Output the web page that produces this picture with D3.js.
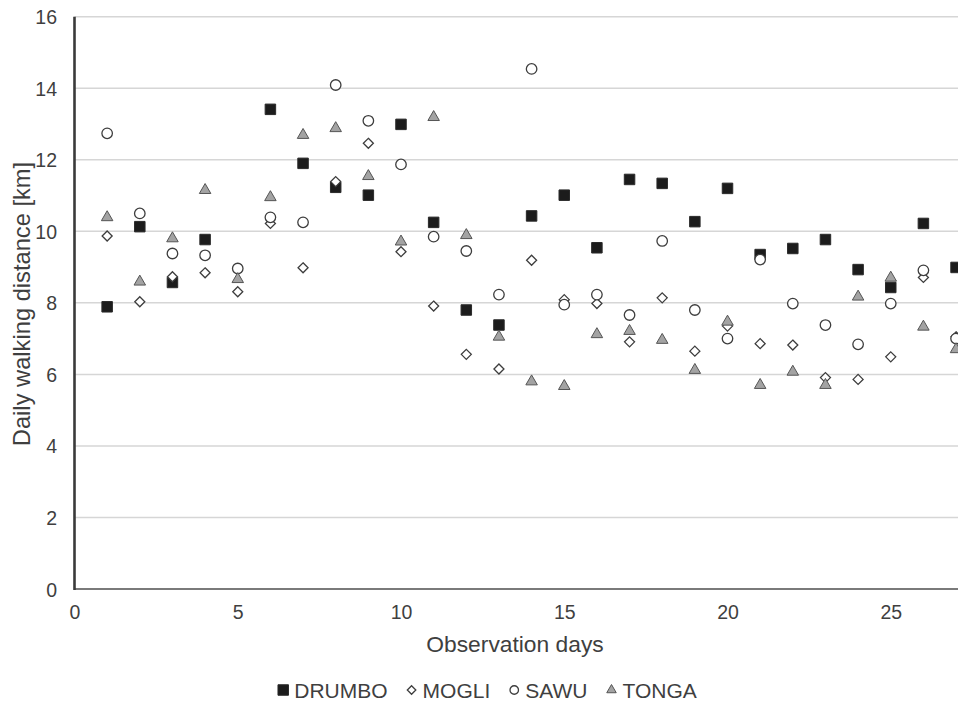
<!DOCTYPE html>
<html>
<head>
<meta charset="utf-8">
<script src="https://cdn.jsdelivr.net/npm/d3@7"></script>
<style>
  html, body { margin: 0; padding: 0; background: #fff; overflow: hidden; }
  svg { display: block; font-family: "Liberation Sans", Arial, sans-serif; }
</style>
</head>
<body>
<svg id="chart" width="958" height="702"></svg>
<script>
// ---- data ----
const days = [1, 2, 3, 4, 5, 6, 7, 8, 9, 10, 11, 12, 13, 14, 15, 16, 17, 18, 19, 20, 21, 22, 23, 24, 25, 26, 27];
const drumbo = [7.89, 10.13, 8.57, 9.77, null, 13.41, 11.9, 11.23, 11.01, 12.99, 10.25, 7.8, 7.38, 10.43, 11.01, 9.54, 11.45, 11.34, 10.27, 11.2, 9.35, 9.52, 9.77, 8.93, 8.43, 10.22, 8.99];
const mogli  = [9.87, 8.03, 8.73, 8.84, 8.31, 10.22, 8.98, 11.39, 12.46, 9.43, 7.91, 6.56, 6.15, 9.19, 8.09, 7.98, 6.91, 8.14, 6.65, 7.35, 6.86, 6.82, 5.91, 5.86, 6.49, 8.71, 7.05];
const sawu   = [12.74, 10.5, 9.38, 9.33, 8.96, 10.39, 10.25, 14.09, 13.09, 11.87, 9.85, 9.45, 8.23, 14.54, 7.95, 8.23, 7.66, 9.73, 7.8, 7.0, 9.21, 7.98, 7.38, 6.84, 7.98, 8.91, 7.0];
const tonga  = [10.39, 8.59, 9.8, 11.15, 8.66, 10.95, 12.69, 12.88, 11.54, 9.71, 13.19, 9.89, 7.05, 5.8, 5.67, 7.12, 7.21, 6.96, 6.12, 7.47, 5.7, 6.07, 5.7, 8.17, 8.7, 7.33, 6.7];
const seriesNames = ["DRUMBO", "MOGLI", "SAWU", "TONGA"];
const xTicks = [0, 5, 10, 15, 20, 25];
const yTicks = [0, 2, 4, 6, 8, 10, 12, 14, 16];
const xTitle = "Observation days";
const yTitle = "Daily walking distance [km]";

// ---- layout ----
const svg = d3.select("#chart");
const plotLeft = 74.5, plotBottom = 589, plotTop = 16.7, rightEdge = 958;
const pxPerDay = 32.65;
const x = d3.scaleLinear().domain([0, 30]).range([plotLeft, plotLeft + 30 * pxPerDay]);
const y = d3.scaleLinear().domain([0, 16]).range([plotBottom, plotTop]);
const textColor = "#3f3f3f";

// gridlines
svg.append("g").selectAll("line").data(yTicks.filter(d => d > 0)).join("line")
  .attr("x1", plotLeft).attr("x2", rightEdge)
  .attr("y1", d => y(d)).attr("y2", d => y(d))
  .attr("stroke", "#d6d6d6").attr("stroke-width", 1.5);

// y axis (labels only, via d3 axis)
const yAxis = svg.append("g").attr("transform", `translate(${plotLeft},0)`)
  .call(d3.axisLeft(y).tickValues(yTicks).tickSize(0).tickPadding(17.5));
yAxis.select(".domain").remove();
yAxis.selectAll("text").attr("fill", textColor).style("font-size", "19.5px")
  .attr("dy", "0.36em");

// x axis labels
const xAxis = svg.append("g").attr("transform", `translate(0,${plotBottom})`)
  .call(d3.axisBottom(x).tickValues(xTicks).tickSize(0).tickPadding(16));
xAxis.select(".domain").remove();
xAxis.selectAll("text").attr("fill", textColor).style("font-size", "19.5px")
  .attr("dy", "0.71em");

// axis lines
svg.append("line").attr("x1", plotLeft).attr("x2", rightEdge)
  .attr("y1", plotBottom).attr("y2", plotBottom)
  .attr("stroke", "#7a7a7a").attr("stroke-width", 2);
svg.append("line").attr("x1", plotLeft).attr("x2", plotLeft)
  .attr("y1", plotTop).attr("y2", plotBottom + 1)
  .attr("stroke", "#3a3a3a").attr("stroke-width", 2.6);

// titles
svg.append("text").attr("x", 515).attr("y", 651.5)
  .attr("text-anchor", "middle").attr("fill", textColor)
  .style("font-size", "22.8px").text(xTitle);
svg.append("text")
  .attr("transform", "translate(29.5,304) rotate(-90)")
  .attr("text-anchor", "middle").attr("fill", textColor)
  .style("font-size", "23.7px").text(yTitle);

// ---- markers ----
function diamondPath(r) {
  return `M0,${-r}L${r},0L0,${r}L${-r},0Z`;
}
const styles = [
  { path: s => d3.symbol(d3.symbolSquare, s * s)(), size: 10.5, lsize: 10.5, fill: "#1c1c1c", stroke: "#2a2a2a", sw: 1 },
  { path: s => diamondPath(s / 2), size: 10, lsize: 8.5, fill: "#ffffff", stroke: "#3d3d3d", sw: 1.3 },
  { path: s => d3.symbol(d3.symbolCircle, Math.PI * s * s / 4)(), size: 10.5, lsize: 8.5, fill: "#ffffff", stroke: "#3d3d3d", sw: 1.3 },
  { path: s => d3.symbol(d3.symbolTriangle, Math.sqrt(3) / 4 * s * s)(), size: 11.5, lsize: 9.5, fill: "#a3a3a3", stroke: "#555555", sw: 1 }
];
const allSeries = [drumbo, mogli, sawu, tonga];

const plot = svg.append("g");
allSeries.forEach((vals, i) => {
  const st = styles[i];
  const pts = days.map((d, j) => ({ day: d, v: vals[j] })).filter(p => p.v != null);
  plot.append("g").selectAll("path").data(pts).join("path")
    .attr("d", st.path(st.size))
    .attr("transform", p => `translate(${x(p.day)},${y(p.v)})`)
    .attr("fill", st.fill).attr("stroke", st.stroke).attr("stroke-width", st.sw);
});

// ---- legend ----
const legend = svg.append("g");
const legendY = 690;
const markerToText = 11;
const items = [];
seriesNames.forEach((name, i) => {
  const g = legend.append("g");
  const st = styles[i];
  g.append("path").attr("d", st.path(st.lsize))
    .attr("transform", `translate(0,${legendY})`)
    .attr("fill", st.fill).attr("stroke", st.stroke).attr("stroke-width", st.sw);
  const t = g.append("text").attr("x", markerToText).attr("y", legendY + 7.5)
    .attr("fill", textColor).style("font-size", "21px").text(name);
  items.push({ g, w: markerToText + t.node().getComputedTextLength() });
});
const gap = 24;
const totalW = d3.sum(items, d => d.w) + gap * (items.length - 1) + 6;
let cx = 487 - totalW / 2 + 6;
items.forEach(it => {
  it.g.attr("transform", `translate(${cx},0)`);
  cx += it.w + gap;
});
</script>
</body>
</html>
